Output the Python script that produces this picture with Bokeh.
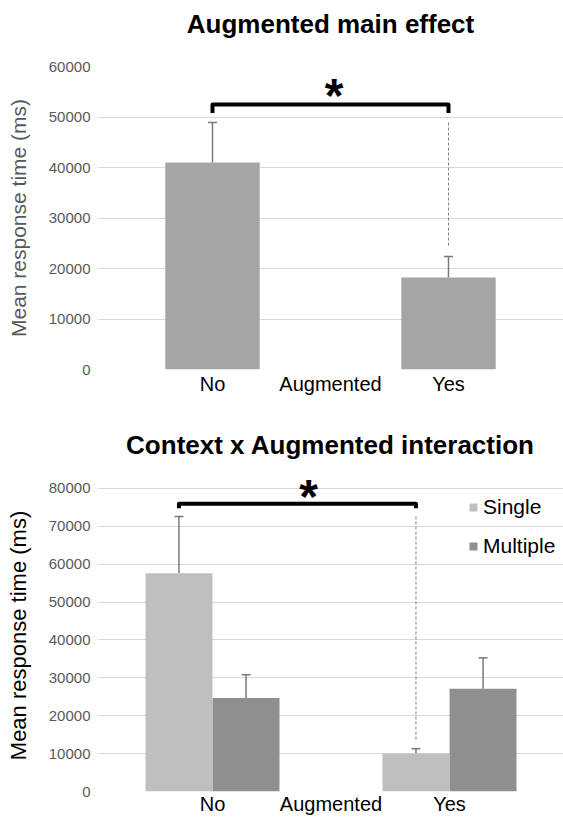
from bokeh.plotting import figure
from bokeh.models import (ColumnDataSource, Whisker, TeeHead, FixedTicker,
                          BasicTickFormatter, Legend, LegendItem, Range1d)
from bokeh.layouts import column
from bokeh.core.properties import value
from bokeh.embed import file_html
from bokeh.resources import INLINE

# ---------------- data ----------------
categories = ["No", "Yes"]
factor_name = "Augmented"

main_title = "Augmented main effect"
main_means = [41000, 18200]
main_errors = [7900, 4200]
main_ticks = [0, 10000, 20000, 30000, 40000, 50000, 60000]

inter_title = "Context x Augmented interaction"
series_names = ["Single", "Multiple"]
single_means = [57600, 10000]
single_errors = [15000, 1300]
multiple_means = [24700, 27100]
multiple_errors = [6100, 8200]
inter_ticks = [0, 10000, 20000, 30000, 40000, 50000, 60000, 70000, 80000]

y_label = "Mean response time (ms)"
sig_mark = "*"
main_bracket = [52500, 50800]     # bracket level, bracket end level
inter_bracket = [76000, 74800]

# ---------------- styles ----------------
FONT = "Liberation Sans"
GRID = "#D9D9D9"
TICK_COLOR = "#595959"
ERR_COLOR = "#7A7A7A"
DASH_COLOR = "#808080"

cat_x = [1 + 2 * i for i in range(len(categories))]
label_ticks = cat_x[:1] + [(cat_x[0] + cat_x[1]) / 2] + cat_x[1:]
label_map = {cat_x[0]: categories[0], (cat_x[0] + cat_x[1]) / 2: factor_name, cat_x[1]: categories[1]}


def style(p, ticks, ylab_color, ylab_size, ylab_standoff, xstandoff):
    p.outline_line_color = None
    p.background_fill_color = "white"
    p.border_fill_color = "white"
    p.xgrid.grid_line_color = None
    p.ygrid.grid_line_color = GRID
    p.ygrid.grid_line_width = 1
    p.ygrid.ticker = FixedTicker(ticks=ticks)
    ya = p.yaxis[0]
    ya.ticker = FixedTicker(ticks=ticks)
    ya.formatter = BasicTickFormatter(use_scientific=False)
    ya.axis_line_color = None
    ya.major_tick_line_color = None
    ya.minor_tick_line_color = None
    ya.major_tick_out = 0
    ya.major_tick_in = 0
    ya.major_label_standoff = 7
    ya.major_label_text_font = FONT
    ya.major_label_text_font_size = "15px"
    ya.major_label_text_color = TICK_COLOR
    ya.axis_label = y_label
    ya.axis_label_text_font = FONT
    ya.axis_label_text_font_size = ylab_size
    ya.axis_label_text_font_style = "normal"
    ya.axis_label_text_color = ylab_color
    ya.axis_label_standoff = ylab_standoff
    xa = p.xaxis[0]
    xa.ticker = FixedTicker(ticks=label_ticks)
    xa.major_label_overrides = label_map
    xa.axis_line_color = None
    xa.major_tick_line_color = None
    xa.minor_tick_line_color = None
    xa.major_tick_out = 0
    xa.major_tick_in = 0
    xa.major_label_standoff = xstandoff
    xa.major_label_text_font = FONT
    xa.major_label_text_font_size = "20px"
    xa.major_label_text_color = "black"
    p.title.text_font = FONT
    p.title.text_font_size = "26px"
    p.title.text_font_style = "bold"
    p.title.text_color = "black"
    p.title.align = "center"


# ---------------- top chart ----------------
p1 = figure(width=563, height=419, output_backend="svg", toolbar_location=None,
            x_range=Range1d(0.0254, 3.9746), y_range=Range1d(0, 60000),
            min_border_left=97, min_border_right=0, min_border_top=88,
            min_border_bottom=28, title=main_title, margin=(-22, 0, 0, 0))
style(p1, main_ticks, TICK_COLOR, "21px", 16, 3)
p1.title.standoff = 56

p1.vbar(x=cat_x, top=main_means, width=0.8, fill_color="#A5A5A5", line_color=None)
src1 = ColumnDataSource(dict(base=cat_x, lower=main_means,
                             upper=[m + e for m, e in zip(main_means, main_errors)]))
p1.add_layout(Whisker(source=src1, base="base", lower="lower", upper="upper",
                      dimension="height", line_color=ERR_COLOR, line_width=1.5,
                      lower_head=None,
                      upper_head=TeeHead(size=9, line_color=ERR_COLOR, line_width=1.5)))
b_lvl, b_end = main_bracket
p1.line(x=[cat_x[0], cat_x[0], cat_x[1], cat_x[1]], y=[b_end, b_lvl, b_lvl, b_end],
        line_color="black", line_width=4, line_join="round")
top_err = [m + e for m, e in zip(main_means, main_errors)]
p1.line(x=[cat_x[1], cat_x[1]], y=[top_err[0], top_err[1] + 1800],
        line_color=DASH_COLOR, line_width=1, line_dash="3 2")
p1.text(x=[(cat_x[0] + cat_x[1]) / 2 + 0.03], y=[54300], text=[sig_mark],
        text_font=value(FONT), text_font_size="48px", text_font_style="bold",
        text_align="center", text_baseline="alphabetic", text_color="black")

# ---------------- bottom chart ----------------
p2 = figure(width=563, height=420, output_backend="svg", toolbar_location=None,
            x_range=Range1d(0.0295, 3.962), y_range=Range1d(0, 82376),
            min_border_left=97, min_border_right=0, min_border_top=82,
            min_border_bottom=26, title=inter_title)
style(p2, inter_ticks, "black", "22px", 15, 1)
p2.title.standoff = 39

off = 0.283
bw = 0.565
xs_single = [x - off for x in cat_x]
xs_multi = [x + off for x in cat_x]
r_s = p2.vbar(x=xs_single, top=single_means, width=bw, fill_color="#BFBFBF", line_color=None)
r_m = p2.vbar(x=xs_multi, top=multiple_means, width=bw, fill_color="#8F8F8F", line_color=None)
s_err = [m + e for m, e in zip(single_means, single_errors)]
m_err = [m + e for m, e in zip(multiple_means, multiple_errors)]
src2 = ColumnDataSource(dict(base=xs_single + xs_multi, lower=single_means + multiple_means,
                             upper=s_err + m_err))
p2.add_layout(Whisker(source=src2, base="base", lower="lower", upper="upper",
                      dimension="height", line_color=ERR_COLOR, line_width=1.5,
                      lower_head=None,
                      upper_head=TeeHead(size=9, line_color=ERR_COLOR, line_width=1.5)))
b_lvl, b_end = inter_bracket
p2.line(x=[xs_single[0], xs_single[0], xs_single[1], xs_single[1]],
        y=[b_end, b_lvl, b_lvl, b_end],
        line_color="black", line_width=4, line_join="round")
p2.line(x=[xs_single[1], xs_single[1]], y=[s_err[0], s_err[1] + 1800],
        line_color=DASH_COLOR, line_width=1, line_dash="3 2")
p2.text(x=[(xs_single[0] + xs_single[1]) / 2 + 0.093], y=[77800], text=[sig_mark],
        text_font=value(FONT), text_font_size="48px", text_font_style="bold",
        text_align="center", text_baseline="alphabetic", text_color="black")

legend = Legend(items=[LegendItem(label=series_names[0], renderers=[r_s]),
                       LegendItem(label=series_names[1], renderers=[r_m])],
                location=(371, 233), orientation="vertical",
                glyph_width=10, glyph_height=10, label_standoff=5,
                label_text_font=FONT, label_text_font_size="21px",
                label_text_color="black", spacing=15, padding=0, margin=0,
                border_line_color=None, background_fill_alpha=0)
p2.add_layout(legend)

layout = column(p1, p2, spacing=0)
open("out.html", "w").write(file_html(layout, INLINE))
